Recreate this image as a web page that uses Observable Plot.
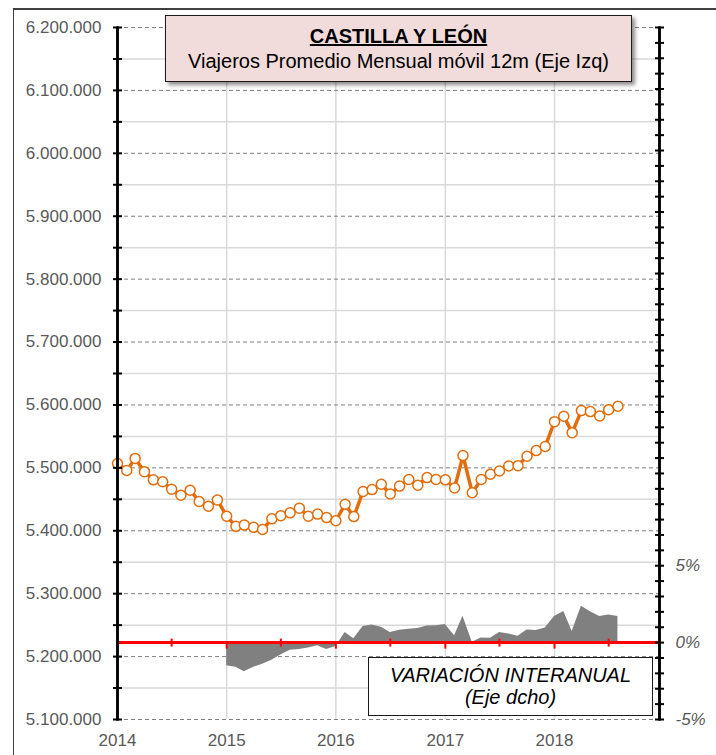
<!DOCTYPE html>
<html><head><meta charset="utf-8">
<script src="https://cdn.jsdelivr.net/npm/d3@7"></script>
<script src="https://cdn.jsdelivr.net/npm/@observablehq/plot@0.6"></script>
<style>
html,body{margin:0;padding:0;background:#fff;overflow:hidden;}
#wrap{position:relative;width:716px;height:755px;font-family:"Liberation Sans",Arial,sans-serif;overflow:hidden;}
#frame{position:absolute;left:13px;top:8px;width:720px;height:800px;border-top:2px solid #404040;border-left:1px solid #404040;box-sizing:border-box;}
#chart{position:absolute;left:0;top:0;}
#title{position:absolute;left:165px;top:15px;width:467px;height:67px;box-sizing:border-box;background:#f2dcdb;border:1px solid #1a1a1a;box-shadow:3px 3px 4px rgba(0,0,0,0.45);text-align:center;font-size:20px;line-height:25px;padding-top:8px;color:#000;}
#title .t{font-weight:bold;text-decoration:underline;}
#legend{position:absolute;left:368px;top:657px;width:285px;height:59px;box-sizing:border-box;background:#fff;border:1px solid #1a1a1a;text-align:center;font-size:20px;line-height:22px;padding-top:6px;font-style:italic;color:#000;}
</style>
</head><body>
<div id="wrap">
  <div id="frame"></div>
  <div id="chart"></div>
  <div id="title"><div class="t">CASTILLA Y LEÓN</div><div>Viajeros Promedio Mensual móvil 12m (Eje Izq)</div></div>
  <div id="legend"><div>VARIACIÓN INTERANUAL</div><div>(Eje dcho)</div></div>
</div>
<script>
// ---- data ----
const months = ["2014-01","2014-02","2014-03","2014-04","2014-05","2014-06","2014-07","2014-08","2014-09","2014-10","2014-11","2014-12",
"2015-01","2015-02","2015-03","2015-04","2015-05","2015-06","2015-07","2015-08","2015-09","2015-10","2015-11","2015-12",
"2016-01","2016-02","2016-03","2016-04","2016-05","2016-06","2016-07","2016-08","2016-09","2016-10","2016-11","2016-12",
"2017-01","2017-02","2017-03","2017-04","2017-05","2017-06","2017-07","2017-08","2017-09","2017-10","2017-11","2017-12",
"2018-01","2018-02","2018-03","2018-04","2018-05","2018-06","2018-07","2018-08"];
const viajeros = [5507000,5496000,5515000,5494000,5481000,5478000,5466000,5456500,5464500,5446500,5439000,5449000,
5423000,5407000,5409000,5405500,5402000,5419000,5424000,5428500,5436000,5423000,5426500,5421000,
5416000,5442000,5422500,5462500,5465500,5474000,5458500,5471000,5481500,5472500,5484500,5481500,
5481000,5468000,5519500,5460500,5481500,5490000,5495000,5503000,5503500,5518500,5527500,5534000,
5573500,5582000,5556000,5591000,5589500,5582500,5592500,5598000];
const varMonths = ["2015-01","2015-02","2015-03","2015-04","2015-05","2015-06","2015-07","2015-08","2015-09","2015-10","2015-11","2015-12",
"2016-01","2016-02","2016-03","2016-04","2016-05","2016-06","2016-07","2016-08","2016-09","2016-10","2016-11","2016-12",
"2017-01","2017-02","2017-03","2017-04","2017-05","2017-06","2017-07","2017-08","2017-09","2017-10","2017-11","2017-12",
"2018-01","2018-02","2018-03","2018-04","2018-05","2018-06","2018-07","2018-08"];
const variacion = [-1.5,-1.6,-1.9,-1.6,-1.4,-1.15,-0.8,-0.5,-0.45,-0.35,-0.2,-0.45,
-0.25,0.65,0.25,1.05,1.15,1.0,0.65,0.8,0.87,0.91,1.08,1.1,
1.17,0.45,1.71,0.02,0.3,0.29,0.65,0.56,0.41,0.82,0.78,0.95,
1.69,2.03,0.73,2.36,2.01,1.69,1.8,1.69];
const yearTicks = ["2014","2015","2016","2017","2018"];
const halfYearTicks = ["2014-07","2015-07","2016-07","2017-07","2018-07"];
const leftMajorTicks = [5100000,5200000,5300000,5400000,5500000,5600000,5700000,5800000,5900000,6000000,6100000,6200000];
const leftMinorTicks = [5150000,5250000,5350000,5450000,5550000,5650000,5750000,5850000,5950000,6050000,6150000];
const leftTickLabels = ["5.100.000","5.200.000","5.300.000","5.400.000","5.500.000","5.600.000","5.700.000","5.800.000","5.900.000","6.000.000","6.100.000","6.200.000"];
const rightLabelValues = [-5, 0, 5];
const rightTickLabels = ["-5%","0%","5%"];
const rightRange = [-5, 40];
const leftRange = [5100000, 6200000];
const xRange = ["2014-01-01", "2018-12-18"];

// ---- helpers ----
const pm = d3.utcParse("%Y-%m");
const py = d3.utcParse("%Y");
const pd = d3.utcParse("%Y-%m-%d");
const toLeft = p => leftRange[0] + (p - rightRange[0]) * (leftRange[1] - leftRange[0]) / (rightRange[1] - rightRange[0]);
const zero = toLeft(0);
const rightAllTicks = d3.range(rightRange[0], rightRange[1] + 1).map(toLeft);
const leftLabelMap = new Map(leftMajorTicks.map((v, i) => [v, leftTickLabels[i]]));

const viajData = months.map((m, i) => ({date: pm(m), v: viajeros[i]}));
const varData = varMonths.map((m, i) => ({date: pm(m), v: variacion[i]}));
const yearDates = yearTicks.map(py);
const halfDates = halfYearTicks.map(pm);
const xDomain = xRange.map(pd);

const orange = "#E46C0A";
const crossTick = {draw(ctx) { ctx.moveTo(0, -4); ctx.lineTo(0, 4); }};
const downTick = {draw(ctx) { ctx.moveTo(0, 0); ctx.lineTo(0, 6); }};
const hTick = {draw(ctx) { ctx.moveTo(-4.5, 0); ctx.lineTo(4.5, 0); }};

const chart = Plot.plot({
  width: 716,
  height: 755,
  marginLeft: 117,
  marginRight: 57,
  marginTop: 27,
  marginBottom: 36,
  style: {fontFamily: "Liberation Sans, Arial, sans-serif", fontSize: "17px", background: "transparent"},
  x: {type: "utc", domain: xDomain},
  y: {domain: leftRange},
  marks: [
    Plot.ruleY(leftMinorTicks, {stroke: "#d9d9d9", strokeWidth: 1.5}),
    Plot.ruleX(yearDates.slice(1), {stroke: "#d9d9d9", strokeWidth: 1.5}),
    Plot.ruleY(leftMajorTicks, {stroke: "#7f7f7f", strokeWidth: 1, strokeDasharray: "4,3"}),
    Plot.areaY(varData, {x: "date", y1: zero, y2: d => toLeft(d.v), fill: "#808080", curve: "linear"}),
    Plot.ruleY([zero], {stroke: "#ff0000", strokeWidth: 3}),
    Plot.dot(halfDates, {x: d => d, y: zero, symbol: crossTick, fill: "none", stroke: "#ff0000", strokeWidth: 2}),
    Plot.dot(yearDates, {x: d => d, y: zero, symbol: downTick, fill: "none", stroke: "#ff0000", strokeWidth: 2}),
    Plot.line(viajData, {x: "date", y: "v", stroke: orange, strokeWidth: 3.5}),
    Plot.dot(viajData, {x: "date", y: "v", r: 5, fill: "white", stroke: orange, strokeWidth: 1.5}),
    Plot.axisY({anchor: "left", ticks: leftMajorTicks, tickSize: 0, tickPadding: 16, tickFormat: d => leftLabelMap.get(d), fontSize: 17, color: "#595959", label: null}),
    Plot.text(rightLabelValues, {y: d => toLeft(d), text: (d, i) => rightTickLabels[i], frameAnchor: "right", dx: 16, textAnchor: "start", fontStyle: "italic", fontSize: 17, fill: "#595959"}),
    Plot.axisX({anchor: "bottom", ticks: yearDates, tickFormat: "%Y", tickSize: 0, tickPadding: 14, fontSize: 17, color: "#595959", label: null}),
    Plot.frame({anchor: "left", stroke: "#000", strokeWidth: 2.5}),
    Plot.frame({anchor: "right", stroke: "#000", strokeWidth: 2.5}),
    Plot.ruleX(xDomain, {x: d => d, stroke: "#000", strokeWidth: 2.5}),
    Plot.dot(leftMajorTicks.concat(leftMinorTicks), {x: () => xDomain[0], y: d => d, symbol: hTick, fill: "none", stroke: "#000", strokeWidth: 2}),
    Plot.dot(rightAllTicks, {x: () => xDomain[1], y: d => d, symbol: hTick, fill: "none", stroke: "#000", strokeWidth: 2})
  ]
});
document.getElementById("chart").appendChild(chart);
</script>
</body></html>
